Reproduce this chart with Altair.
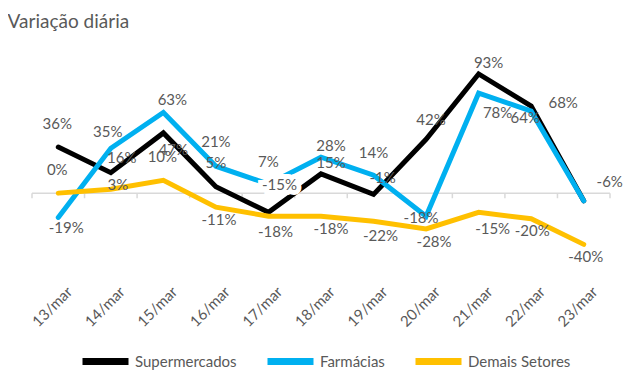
import altair as alt
import pandas as pd

# ---- data ----
dates = ["13/mar", "14/mar", "15/mar", "16/mar", "17/mar", "18/mar",
         "19/mar", "20/mar", "21/mar", "22/mar", "23/mar"]
series_names = ["Supermercados", "Farmácias", "Demais Setores"]
supermercados = [36, 16, 47, 5, -15, 15, -1, 42, 93, 68, -6]
farmacias = [-19, 35, 63, 21, 7, 28, 14, -18, 78, 64, -6]
demais_setores = [0, 3, 10, -11, -18, -18, -22, -28, -15, -20, -40]
series_values = [supermercados, farmacias, demais_setores]

# ---- style ----
colors = ["#000000", "#00b0f0", "#ffc000"]
label_dx = [
    [-1, 11, 10, 0, 11, 10, 9, 5, 10, 32, 26],
    [8, -3, 9, 0, 0, 10, 0, -5, 19, -6, 26],
    [-1, 7, -1, 3, 7, 10, 7, 8, 14, 1, 2],
]
label_dy = [
    [-23, -15, 17, -24, -27, -11, -16, -19, -11, -3, -19],
    [11, -16, -12, -24, -22, -11, -22, 2, 20, 7, -19],
    [-23, -4, -23, 13, 16, 13, 15, 13, 17, 12, 13],
]
boxed_label = ("Supermercados", "17/mar")
hidden_label = ("Farmácias", "23/mar")   # hidden behind the other -6% label
FONT = "Lato"
TXT = "#595959"
AXIS_GRAY = "#d9d9d9"

rows = []
for s, name in enumerate(series_names):
    for i, d in enumerate(dates):
        v = series_values[s][i]
        rows.append({
            "i": i, "date": d, "s": name, "v": v / 100.0,
            "label": f"{v}%", "dx": label_dx[s][i], "dy": label_dy[s][i],
            "boxed": (name, d) == boxed_label,
            "hidden": (name, d) == hidden_label,
        })
df = pd.DataFrame(rows)

label_expr = "[" + ",".join(f"'{d}'" for d in dates) + "][datum.value]"
xscale = alt.Scale(domain=[-0.5, len(dates) - 0.5], nice=False, zero=False)
xaxis = alt.Axis(values=list(range(len(dates))), labelExpr=label_expr,
                 labelAngle=-45, labelAlign="right", labelBaseline="top",
                 domain=False, ticks=False, grid=False, title=None,
                 labelFont=FONT, labelFontSize=15, labelColor=TXT,
                 labelPadding=14, labelOffset=6)
yscale = alt.Scale(domain=[-0.6, 1.0], nice=False, zero=False)


def X(f):
    return alt.X(f, scale=xscale, axis=xaxis)


def Y(f):
    return alt.Y(f, scale=yscale, axis=None)


color_scale = alt.Scale(domain=series_names, range=colors)
legend = alt.Legend(orient="none", legendX=47, legendY=270, direction="horizontal",
                    title=None, symbolType="stroke", symbolSize=2116,
                    symbolStrokeWidth=7, labelFont=FONT, labelFontSize=15,
                    labelColor=TXT, columnPadding=16, labelOffset=3,
                    gridAlign="none")

# zero line and category boundary ticks
zero_df = pd.DataFrame({"a": [-0.5], "b": [len(dates) - 0.5], "z": [0.0]})
zero_line = alt.Chart(zero_df).mark_rule(color=AXIS_GRAY, strokeWidth=1.5).encode(
    x=X("a:Q"), x2="b:Q", y=Y("z:Q"))
bounds_df = pd.DataFrame({"b": [k - 0.5 for k in range(len(dates) + 1)],
                          "z": 0.0, "t": -0.04})
ticks = alt.Chart(bounds_df).mark_rule(color=AXIS_GRAY, strokeWidth=1.5).encode(
    x=X("b:Q"), y=Y("z:Q"), y2="t:Q")

layers = [zero_line, ticks]
for name in series_names:
    layers.append(
        alt.Chart(df).transform_filter(alt.datum.s == name)
        .mark_line(strokeWidth=5, strokeCap="round")
        .encode(x=X("i:Q"), y=Y("v:Q"),
                color=alt.Color("s:N", scale=color_scale, legend=legend))
    )

# labels: one layer per distinct offset
shown = df[~df["hidden"]]
offsets = sorted(set(zip(shown["dx"], shown["dy"])))
for (ox, oy) in offsets:
    sub = shown[(shown["dx"] == ox) & (shown["dy"] == oy)]
    if sub["boxed"].any():
        layers.append(
            alt.Chart(sub[sub["boxed"]]).mark_text(
                font=FONT, fontSize=15, color="white", stroke="white",
                strokeWidth=10, dx=int(ox), dy=int(oy))
            .encode(x=X("i:Q"), y=Y("v:Q"), text="label:N"))
for (ox, oy) in offsets:
    sub = shown[(shown["dx"] == ox) & (shown["dy"] == oy)]
    layers.append(
        alt.Chart(sub).mark_text(font=FONT, fontSize=15, color=TXT,
                                 dx=int(ox), dy=int(oy))
        .encode(x=X("i:Q"), y=Y("v:Q"), text="label:N"))

chart = alt.layer(*layers).properties(
    width=578, height=205,
    title=alt.TitleParams("Variação diária", anchor="start", dx=-22, offset=24,
                          font=FONT, fontSize=19, fontWeight="normal", color=TXT),
    autosize=alt.AutoSizeParams(type="none"),
    padding={"left": 24, "top": 57, "right": 15, "bottom": 105},
).configure_view(stroke=None)

chart.save("out.html", embed_options={"renderer": "svg", "actions": False})
